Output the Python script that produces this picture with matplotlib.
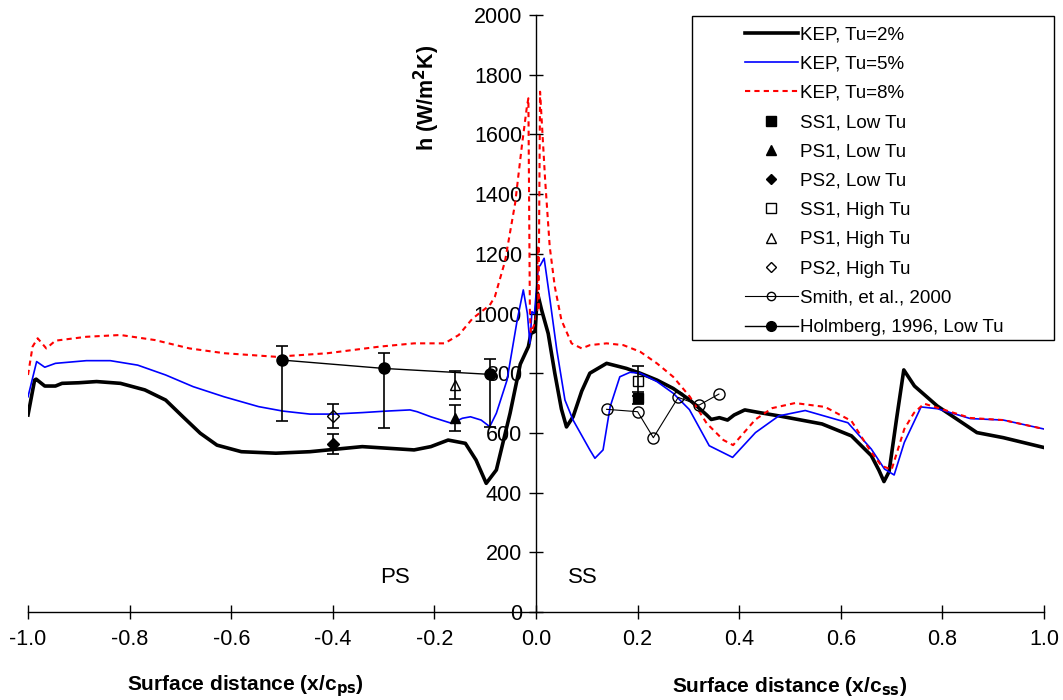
import numpy as np
import matplotlib.pyplot as plt
from matplotlib.lines import Line2D
from matplotlib.patches import Rectangle

plt.rcParams['font.family'] = ['Liberation Sans', 'DejaVu Sans']

# KEP predictions
x_tu2 = [-1.0, -0.987, -0.984, -0.967, -0.946, -0.933, -0.9, -0.865, -0.818, -0.77, -0.729,
         -0.695, -0.661, -0.628, -0.58, -0.512, -0.445, -0.342, -0.24, -0.207, -0.173, -0.139,
         -0.118, -0.098, -0.078, -0.051, -0.031, -0.015, -0.01, -0.002, 0.003, 0.011,
         0.024, 0.037, 0.05, 0.06, 0.073, 0.09, 0.106, 0.139, 0.178, 0.205, 0.238, 0.27, 0.303,
         0.336, 0.345, 0.361, 0.377, 0.39, 0.411, 0.44, 0.478, 0.563, 0.621, 0.66, 0.675,
         0.685, 0.695, 0.71, 0.724, 0.745, 0.79, 0.868, 0.92, 1.0]
h_tu2 = [660, 777, 780, 757, 757, 766, 768, 772, 766, 744, 710,
         654, 599, 559, 537, 532, 537, 554, 543, 554, 576, 565,
         509, 431, 476, 666, 830, 889, 933, 940, 1068, 1012,
         933, 800, 680, 620, 654, 740, 800, 833, 816, 800, 777, 749, 710,
         660, 645, 651, 643, 660, 677, 668, 657, 630, 590, 524, 475,
         437, 470, 650, 811, 757, 690, 601, 584, 551]

x_tu5 = [-1.0, -0.983, -0.967, -0.946, -0.885, -0.838, -0.784, -0.729, -0.675, -0.614, -0.546,
         -0.498, -0.445, -0.4, -0.342, -0.295, -0.248, -0.234, -0.207, -0.166, -0.145, -0.129,
         -0.108, -0.091, -0.078, -0.057, -0.037, -0.025, -0.017, -0.012, -0.008, -0.003, 0.0045,
         0.008, 0.016, 0.0276, 0.041, 0.057, 0.073, 0.106, 0.116, 0.132, 0.146, 0.165, 0.185,
         0.205, 0.238, 0.27, 0.302, 0.341, 0.387, 0.432, 0.478, 0.53, 0.614, 0.66, 0.686,
         0.705, 0.725, 0.758, 0.79, 0.855, 0.92, 1.0]
h_tu5 = [721, 839, 820, 833, 842, 842, 827, 794, 755, 721, 688,
         673, 663, 663, 668, 673, 677, 671, 654, 632, 649, 654,
         643, 621, 666, 777, 978, 1079, 1000, 900, 1006, 1000, 1157,
         1160, 1185, 1045, 877, 710, 643, 543, 515, 543, 688, 788, 803,
         800, 772, 733, 678, 557, 518, 601, 657, 675, 634, 546, 479,
         459, 568, 687, 681, 648, 643, 613]

x_tu8 = [-1.0, -0.991, -0.981, -0.964, -0.946, -0.885, -0.818, -0.75, -0.682, -0.614, -0.512,
         -0.41, -0.308, -0.24, -0.18, -0.152, -0.125, -0.091, -0.081, -0.061, -0.041, -0.028,
         -0.018, -0.015, -0.012, -0.01, -0.004, 0.002, 0.003, 0.005, 0.008, 0.018, 0.027, 0.037,
         0.05, 0.07, 0.09, 0.106, 0.139, 0.172, 0.205, 0.238, 0.27, 0.303, 0.336, 0.369,
         0.388, 0.432, 0.465, 0.51, 0.569, 0.621, 0.66, 0.68, 0.70, 0.725, 0.744, 0.764,
         0.855, 0.92, 1.0]
h_tu8 = [794, 889, 917, 883, 909, 922, 928, 911, 883, 867, 855,
         867, 889, 900, 900, 928, 983, 1028, 1056, 1175, 1370, 1559,
         1692, 1721, 1000, 935, 960, 1003, 1226, 1010, 1743, 1447, 1224, 1090,
         978, 900, 883, 894, 900, 894, 872, 833, 788, 721, 632, 576,
         559, 645, 683, 700, 687, 640, 535, 490, 477, 613, 667, 698,
         650, 643, 613]

# measurements
x_ss1, h_ss1_low, e_ss1_low = [0.2], [716], [20]
x_ps1, h_ps1_low, e_ps1_low = [-0.16], [649], [43]
x_ps2, h_ps2_low, e_ps2_low = [-0.4], [562], [34]
h_ss1_high, e_ss1_high = [775], [50]
h_ps1_high, e_ps1_high = [761], [46]
h_ps2_high, e_ps2_high = [658], [40]

x_smith = [0.139, 0.2, 0.231, 0.28, 0.321, 0.36]
h_smith = [679, 671, 584, 719, 693, 730]

x_holm = [-0.5, -0.3, -0.09]
h_holm = [844, 816, 796]
e_holm_lo = [203, 198, 175]
e_holm_hi = [48, 52, 50]

fig = plt.figure(figsize=(10.63, 7), dpi=100)
ax = fig.add_axes([28/1063, 1-612/700, 1016/1063, 597/700])

ax.plot(x_tu2, h_tu2, c='k', lw=2.6, label='KEP, Tu=2%')
ax.plot(x_tu5, h_tu5, c='#0000ff', lw=1.2, label='KEP, Tu=5%')
ax.plot(x_tu8, h_tu8, c='#ff0000', lw=1.5, ls=(0, (2.5, 2)), label='KEP, Tu=8%')

ebk = dict(ecolor='k', elinewidth=1.2, capsize=4.5, capthick=1.2, ls='none')
ax.errorbar(x_ss1, h_ss1_low, yerr=e_ss1_low, fmt='s', mfc='k', mec='k', ms=7, **ebk)
ax.errorbar(x_ps1, h_ps1_low, yerr=e_ps1_low, fmt='^', mfc='k', mec='k', ms=7.5, **ebk)
ax.errorbar(x_ps2, h_ps2_low, yerr=e_ps2_low, fmt='D', mfc='k', mec='k', ms=6, **ebk)
ax.errorbar(x_ss1, h_ss1_high, yerr=e_ss1_high, fmt='s', mfc='none', mec='k', ms=7, **ebk)
ax.errorbar(x_ps1, h_ps1_high, yerr=e_ps1_high, fmt='^', mfc='none', mec='k', ms=7.5, **ebk)
ax.errorbar(x_ps2, h_ps2_high, yerr=e_ps2_high, fmt='D', mfc='none', mec='k', ms=6, **ebk)

ax.plot(x_smith, h_smith, c='k', lw=0.8, marker='o', mfc='none', mec='k', ms=8, mew=1)
ax.errorbar(x_holm, h_holm, yerr=[e_holm_lo, e_holm_hi], fmt='-o', c='k', lw=1,
            ms=8, ecolor='k', elinewidth=1.2, capsize=4.5, capthick=1.2)

ax.set_xlim(-1.0, 1.0)
ax.set_ylim(0, 2000)
ax.set_xticks(np.arange(-1.0, 1.01, 0.2))
ax.set_xticklabels(['-1.0', '-0.8', '-0.6', '-0.4', '-0.2', '0.0', '0.2', '0.4', '0.6', '0.8', '1.0'])
ax.set_yticks(np.arange(0, 2001, 200))
ax.spines['left'].set_position(('data', 0))
ax.spines['right'].set_visible(False)
ax.spines['top'].set_visible(False)
for s in ('left', 'bottom'):
    ax.spines[s].set_linewidth(1)
ax.tick_params(direction='inout', length=10, width=1, labelsize=15.5)
ax.tick_params(axis='x', pad=7)
ax.tick_params(axis='y', pad=5)

ax.text(-0.278, 114, 'PS', fontsize=16, ha='center', va='center')
ax.text(0.093, 114, 'SS', fontsize=16, ha='center', va='center')

fig.text(427/1063, 1-98/700, 'h (W/m$^\\mathbf{2}$K)', rotation=90, fontsize=15.5,
         fontweight='bold', ha='center', va='center')
fig.text(245/1063, 1-686/700, 'Surface distance (x/c$_\\mathbf{ps}$)', fontsize=15,
         fontweight='bold', ha='center', va='center')
fig.text(790/1063, 1-686/700, 'Surface distance (x/c$_\\mathbf{ss}$)', fontsize=15,
         fontweight='bold', ha='center', va='center')

handles = [
    Line2D([], [], c='k', lw=2.6),
    Line2D([], [], c='#0000ff', lw=1.2),
    Line2D([], [], c='#ff0000', lw=1.5, ls=(0, (2.5, 2))),
    Line2D([], [], ls='none', marker='s', mfc='k', mec='k', ms=6.5),
    Line2D([], [], ls='none', marker='^', mfc='k', mec='k', ms=7),
    Line2D([], [], ls='none', marker='D', mfc='k', mec='k', ms=5.5),
    Line2D([], [], ls='none', marker='s', mfc='none', mec='k', ms=6.5),
    Line2D([], [], ls='none', marker='^', mfc='none', mec='k', ms=7),
    Line2D([], [], ls='none', marker='D', mfc='none', mec='k', ms=5.5),
    Line2D([], [], c='k', lw=0.8, marker='o', mfc='none', mec='k', ms=6),
    Line2D([], [], c='k', lw=1, marker='o', mfc='k', mec='k', ms=7),
]
labels = ['KEP, Tu=2%', 'KEP, Tu=5%', 'KEP, Tu=8%', 'SS1, Low Tu', 'PS1, Low Tu',
          'PS2, Low Tu', 'SS1, High Tu', 'PS1, High Tu', 'PS2, High Tu',
          'Smith, et al., 2000', 'Holmberg, 1996, Low Tu']
fig.legend(handles, labels, loc='upper left', bbox_to_anchor=(745/1063, 1-26/700),
           frameon=False, fontsize=13.5, handlelength=2.8, handletextpad=0.15,
           borderpad=0, borderaxespad=0, labelspacing=0.65)
fig.patches.append(Rectangle((692/1063, 1-340/700), 362/1063, 324/700,
                             transform=fig.transFigure, fill=False, ec='k', lw=1))

plt.savefig('out.png', dpi=100)
